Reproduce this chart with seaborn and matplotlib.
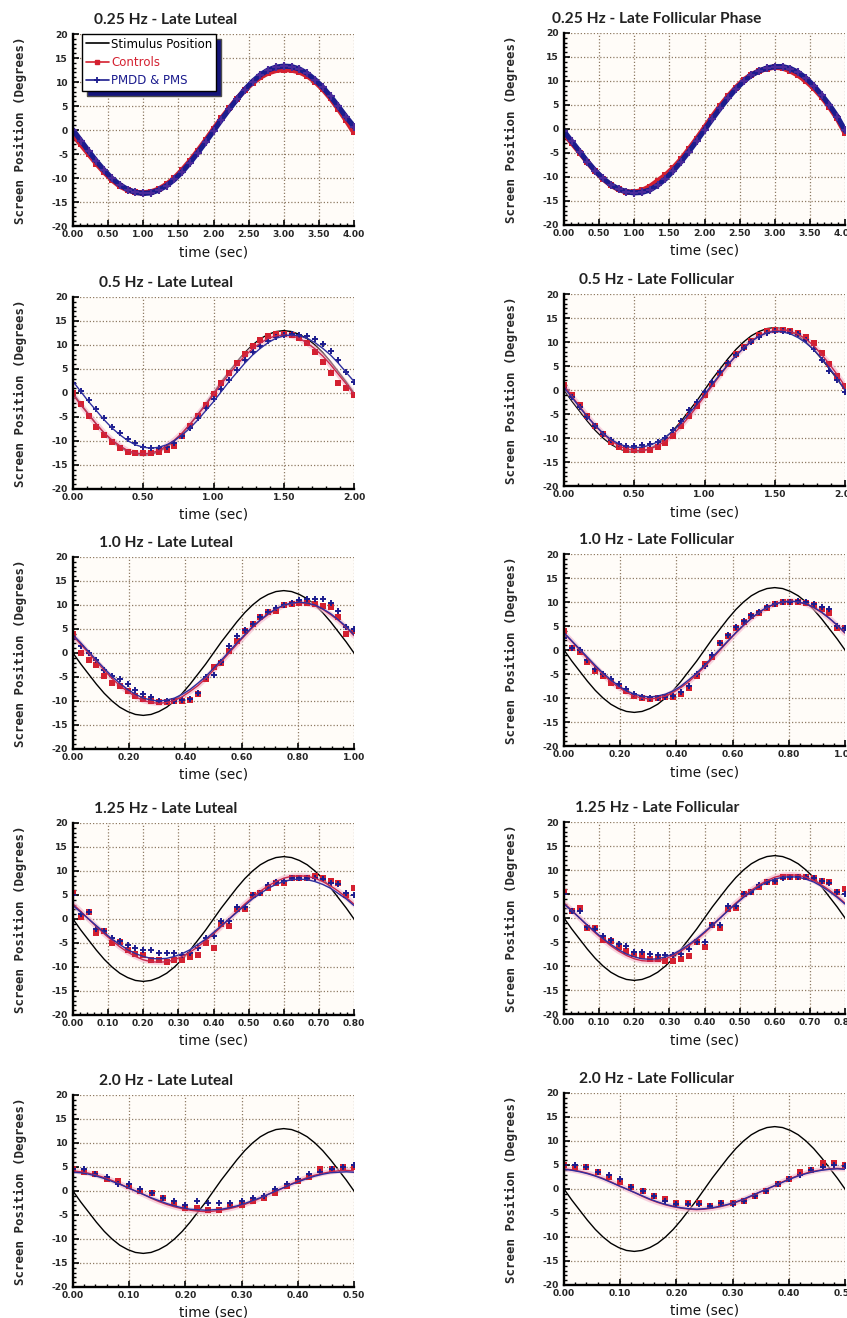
import numpy as np
import matplotlib
matplotlib.use("Agg")
import matplotlib.pyplot as plt
from matplotlib.lines import Line2D
from matplotlib.ticker import MultipleLocator, AutoMinorLocator, FormatStrFormatter
import seaborn as sns

sns.set_theme(style="ticks")
plt.rcParams["font.family"] = ["Liberation Sans Narrow", "DejaVu Sans"]
plt.rcParams["font.weight"] = "bold"
plt.rcParams["axes.unicode_minus"] = False

# ---------------------------------------------------------------------------
# Stimulus position over one cycle (degrees), sampled every 10 deg of phase
stimulus = [0, -2.3, -4.4, -6.5, -8.4, -10.0, -11.3, -12.2, -12.8, -13.0,
            -12.8, -12.2, -11.3, -10.0, -8.4, -6.5, -4.4, -2.3, 0,
            2.3, 4.4, 6.5, 8.4, 10.0, 11.3, 12.2, 12.8, 13.0,
            12.8, 12.2, 11.3, 10.0, 8.4, 6.5, 4.4, 2.3, 0]

# 0.25 Hz - eye position (Controls / PMDD & PMS)
ctrl_025_lut = [-1.0, -3.0, -5.0, -7.0, -8.8, -10.4, -11.7, -12.5, -13.0, -13.1,
                -12.9, -12.3, -11.3, -10.0, -8.3, -6.4, -4.3, -2.1, 0.2,
                2.4, 4.5, 6.5, 8.3, 9.8, 11.0, 11.9, 12.4, 12.6,
                12.5, 12.1, 11.3, 10.1, 8.5, 6.6, 4.4, 2.0, -0.5]
pmdd_025_lut = [0.0, -2.2, -4.4, -6.5, -8.4, -10.1, -11.4, -12.4, -13.0, -13.2,
                -13.1, -12.5, -11.6, -10.3, -8.7, -6.8, -4.7, -2.5, -0.2,
                2.1, 4.3, 6.4, 8.4, 10.1, 11.5, 12.5, 13.1, 13.3,
                13.2, 12.7, 11.8, 10.5, 8.9, 7.0, 4.9, 2.7, 0.7]
ctrl_025_fol = [-1.0, -2.9, -4.9, -6.9, -8.8, -10.4, -11.7, -12.6, -13.1, -13.2,
                -12.8, -12.0, -10.8, -9.6, -8.1, -6.3, -4.2, -2.0, 0.3,
                2.6, 4.8, 6.8, 8.6, 10.2, 11.3, 12.1, 12.6, 12.9,
                12.7, 12.1, 11.2, 10.0, 8.5, 6.7, 4.6, 2.2, -0.8]
pmdd_025_fol = [-0.5, -2.6, -4.7, -6.8, -8.7, -10.3, -11.6, -12.5, -13.1, -13.3,
                -13.2, -12.7, -11.7, -10.4, -8.7, -6.8, -4.7, -2.5, -0.2,
                2.1, 4.3, 6.4, 8.3, 9.9, 11.2, 12.1, 12.7, 13.0,
                13.0, 12.6, 11.8, 10.6, 9.0, 7.1, 5.0, 2.6, -0.3]

# 0.5 Hz
ctrl_05_lut = [0.0, -2.3, -4.8, -7.0, -8.8, -10.3, -11.4, -12.2, -12.5, -12.6,
               -12.4, -12.2, -11.8, -11.0, -9.0, -6.8, -4.7, -2.4, -0.2,
               2.0, 4.2, 6.3, 8.2, 9.8, 11.0, 11.8, 12.2, 12.3,
               12.1, 11.5, 10.4, 8.5, 6.5, 4.2, 2.0, 1.0, -0.5]
pmdd_05_lut = [2.0, 0.5, -1.5, -3.3, -5.3, -7.0, -8.3, -9.5, -10.5, -11.2,
               -11.4, -11.4, -11.2, -10.5, -9.0, -7.3, -5.2, -3.2, -1.2,
               0.8, 2.8, 4.8, 6.8, 8.5, 9.8, 10.8, 11.6, 12.0,
               12.2, 12.1, 11.8, 11.2, 10.2, 8.7, 6.8, 4.3, 2.2]
ctrl_fit_05_lut = [-0.3, -2.5, -4.5, -6.5, -8.3, -9.8, -11.0, -12.0, -12.5, -12.7,
                   -12.5, -12.0, -11.0, -9.8, -8.3, -6.5, -4.5, -2.5, -0.3,
                   1.9, 3.9, 5.9, 7.7, 9.2, 10.4, 11.4, 11.9, 12.1,
                   11.9, 11.4, 10.4, 9.2, 7.7, 5.9, 3.9, 1.9, -0.3]
pmdd_fit_05_lut = [2.4, 0.3, -1.8, -3.7, -5.6, -7.3, -8.7, -9.9, -10.8, -11.3,
                   -11.5, -11.3, -10.8, -9.9, -8.7, -7.3, -5.6, -3.7, -1.8,
                   0.3, 2.4, 4.3, 6.2, 7.9, 9.3, 10.5, 11.4, 11.9,
                   12.1, 11.9, 11.4, 10.5, 9.3, 7.9, 6.2, 4.3, 2.4]
ctrl_05_fol = [1.0, -1.0, -3.2, -5.5, -7.4, -9.2, -10.8, -11.8, -12.4, -12.6,
               -12.6, -12.4, -11.9, -11.0, -9.5, -7.6, -5.5, -3.4, -1.0,
               1.2, 3.5, 5.5, 7.4, 9.0, 10.3, 11.4, 12.2, 12.6,
               12.6, 12.3, 11.8, 11.0, 9.8, 7.8, 5.5, 3.0, 0.8]
pmdd_05_fol = [0.5, -1.4, -3.5, -5.6, -7.6, -9.2, -10.5, -11.3, -11.6, -11.6,
               -11.5, -11.3, -10.8, -9.9, -8.4, -6.4, -4.2, -2.5, -0.5,
               1.6, 3.8, 5.6, 7.3, 8.7, 10.0, 11.0, 11.8, 12.2,
               12.2, 12.0, 11.6, 10.5, 8.5, 6.3, 4.0, 2.0, -0.5]
ctrl_fit_05_fol = [1.0, -1.3, -3.4, -5.5, -7.4, -9.1, -10.5, -11.6, -12.3, -12.6,
                   -12.6, -12.3, -11.6, -10.6, -9.2, -7.5, -5.6, -3.5, -1.3,
                   0.9, 3.1, 5.2, 7.1, 8.8, 10.2, 11.3, 12.0, 12.4,
                   12.5, 12.2, 11.6, 10.6, 9.2, 7.4, 5.4, 3.2, 0.8]
pmdd_fit_05_fol = [0.5, -1.5, -3.6, -5.6, -7.4, -9.0, -10.3, -11.2, -11.8, -12.0,
                   -11.9, -11.5, -10.8, -9.8, -8.5, -6.9, -5.0, -3.0, -0.9,
                   1.2, 3.3, 5.3, 7.1, 8.7, 10.1, 11.2, 11.9, 12.2,
                   12.1, 11.7, 10.9, 9.8, 8.4, 6.6, 4.6, 2.4, 0.0]

# 1.0 Hz
ctrl_10_lut = [4.0, 0.0, -1.5, -2.5, -4.8, -6.3, -6.8, -8.0, -9.0, -9.5,
               -10.0, -10.2, -10.3, -10.0, -10.0, -9.8, -8.5, -5.5, -3.0,
               -2.0, 0.5, 2.5, 4.5, 6.0, 7.5, 8.5, 8.8, 10.0,
               10.3, 10.5, 10.5, 10.2, 9.8, 9.5, 7.5, 4.0, 4.5]
pmdd_10_lut = [3.0, 1.5, 0.0, -1.5, -3.5, -4.8, -5.5, -6.5, -7.8, -8.5,
               -9.2, -10.0, -10.0, -10.0, -9.8, -9.5, -8.3, -5.0, -4.5,
               -1.8, 1.5, 3.5, 4.8, 6.0, 7.5, 8.5, 9.3, 10.0,
               10.5, 11.0, 11.2, 11.2, 11.2, 10.5, 8.8, 5.5, 5.0]
ctrl_fit_10_lut = [3.6, 1.8, 0.0, -1.8, -3.6, -5.3, -6.8, -8.0, -9.1, -9.9,
                   -10.3, -10.5, -10.3, -9.9, -9.1, -8.0, -6.8, -5.3, -3.6,
                   -1.8, 0.0, 1.8, 3.6, 5.3, 6.8, 8.0, 9.1, 9.9,
                   10.3, 10.5, 10.3, 9.9, 9.1, 8.0, 6.8, 5.3, 3.6]
pmdd_fit_10_lut = [3.8, 2.1, 0.3, -1.5, -3.2, -4.9, -6.3, -7.6, -8.6, -9.4,
                   -9.8, -10.0, -9.8, -9.4, -8.6, -7.6, -6.3, -4.9, -3.2,
                   -1.5, 0.3, 2.1, 3.8, 5.5, 6.9, 8.2, 9.2, 10.0,
                   10.4, 10.6, 10.4, 10.0, 9.2, 8.2, 6.9, 5.5, 3.8]
ctrl_10_fol = [4.0, 0.5, -0.5, -2.5, -4.3, -5.5, -6.8, -7.5, -8.5, -9.5,
               -10.0, -10.2, -10.0, -9.8, -9.7, -9.2, -8.0, -5.5, -3.0,
               -1.5, 1.5, 3.0, 4.5, 5.8, 7.0, 7.8, 8.8, 9.5,
               9.9, 10.0, 10.0, 9.8, 9.3, 8.5, 7.8, 4.5, 4.5]
pmdd_10_fol = [2.5, 0.5, 0.0, -2.0, -4.0, -5.0, -6.0, -7.0, -8.2, -9.2,
               -9.8, -10.0, -10.0, -9.8, -9.5, -8.8, -7.5, -5.0, -3.3,
               -1.0, 1.5, 3.2, 4.8, 6.0, 7.2, 8.0, 9.0, 9.6,
               10.0, 10.0, 10.2, 10.0, 9.6, 9.0, 8.5, 5.0, 4.5]
ctrl_fit_10_fol = [3.5, 1.8, 0.0, -1.8, -3.5, -5.1, -6.6, -7.8, -8.8, -9.6,
                   -10.0, -10.2, -10.0, -9.6, -8.8, -7.8, -6.6, -5.1, -3.5,
                   -1.8, 0.0, 1.8, 3.5, 5.1, 6.6, 7.8, 8.8, 9.6,
                   10.0, 10.2, 10.0, 9.6, 8.8, 7.8, 6.6, 5.1, 3.5]
pmdd_fit_10_fol = [3.6, 1.9, 0.2, -1.5, -3.2, -4.8, -6.2, -7.5, -8.5, -9.2,
                   -9.6, -9.8, -9.6, -9.2, -8.5, -7.5, -6.2, -4.8, -3.2,
                   -1.5, 0.2, 1.9, 3.6, 5.2, 6.6, 7.9, 8.9, 9.6,
                   10.0, 10.2, 10.0, 9.6, 8.9, 7.9, 6.6, 5.2, 3.6]

# 1.25 Hz
ctrl_125_lut = [5.5, 0.5, 1.5, -3.0, -2.5, -5.0, -4.8, -6.5, -7.2, -7.5,
                -8.5, -8.5, -9.0, -8.5, -8.5, -8.0, -7.5, -5.0, -6.0,
                -1.0, -1.5, 2.0, 2.0, 5.0, 5.5, 6.5, 7.5, 7.5,
                8.5, 8.5, 8.5, 9.0, 8.5, 8.0, 7.5, 5.0, 6.5]
pmdd_125_lut = [5.0, 1.0, 1.5, -2.0, -2.5, -4.0, -4.5, -5.5, -6.0, -6.5,
                -6.5, -7.0, -7.0, -7.0, -7.5, -7.0, -6.0, -4.0, -3.5,
                -0.5, -0.5, 2.5, 2.5, 5.0, 5.5, 7.0, 7.8, 8.0,
                8.5, 8.5, 8.5, 8.5, 8.3, 7.5, 7.3, 5.5, 5.0]
ctrl_fit_125_lut = [3.1, 1.6, 0.0, -1.6, -3.1, -4.5, -5.8, -6.9, -7.8, -8.5,
                    -8.9, -9.0, -8.9, -8.5, -7.8, -6.9, -5.8, -4.5, -3.1,
                    -1.6, 0.0, 1.6, 3.1, 4.5, 5.8, 6.9, 7.8, 8.5,
                    8.9, 9.0, 8.9, 8.5, 7.8, 6.9, 5.8, 4.5, 3.1]
pmdd_fit_125_lut = [2.8, 1.4, 0.0, -1.4, -2.8, -4.2, -5.3, -6.4, -7.2, -7.8,
                    -8.2, -8.3, -8.2, -7.8, -7.2, -6.4, -5.3, -4.2, -2.8,
                    -1.4, 0.0, 1.4, 2.8, 4.2, 5.3, 6.4, 7.2, 7.8,
                    8.2, 8.3, 8.2, 7.8, 7.2, 6.4, 5.3, 4.2, 2.8]
ctrl_125_fol = [5.5, 1.5, 2.0, -2.0, -2.0, -4.5, -4.8, -6.0, -6.8, -7.5,
                -8.0, -8.5, -8.5, -9.0, -9.0, -8.5, -8.0, -5.0, -6.0,
                -1.5, -2.0, 1.8, 2.0, 5.0, 5.5, 6.5, 7.5, 7.5,
                8.5, 8.5, 8.5, 8.5, 8.3, 7.8, 7.5, 5.5, 6.0]
pmdd_125_fol = [5.0, 1.5, 1.5, -1.8, -2.2, -3.8, -4.5, -5.5, -5.8, -7.0,
                -7.0, -7.5, -7.8, -7.8, -7.8, -7.5, -6.5, -5.0, -5.0,
                -1.5, -1.5, 2.5, 2.5, 5.0, 5.5, 6.8, 7.5, 7.8,
                8.3, 8.5, 8.5, 8.5, 8.3, 7.8, 7.3, 5.5, 5.0]
ctrl_fit_125_fol = [3.1, 1.6, 0.0, -1.6, -3.1, -4.5, -5.8, -6.9, -7.8, -8.5,
                    -8.9, -9.0, -8.9, -8.5, -7.8, -6.9, -5.8, -4.5, -3.1,
                    -1.6, 0.0, 1.6, 3.1, 4.5, 5.8, 6.9, 7.8, 8.5,
                    8.9, 9.0, 8.9, 8.5, 7.8, 6.9, 5.8, 4.5, 3.1]
pmdd_fit_125_fol = [2.9, 1.5, 0.0, -1.5, -2.9, -4.3, -5.5, -6.6, -7.5, -8.1,
                    -8.5, -8.6, -8.5, -8.1, -7.5, -6.6, -5.5, -4.3, -2.9,
                    -1.5, 0.0, 1.5, 2.9, 4.3, 5.5, 6.6, 7.5, 8.1,
                    8.5, 8.6, 8.5, 8.1, 7.5, 6.6, 5.5, 4.3, 2.9]

# 2.0 Hz
ctrl_20_lut = [4.5, 4.0, 3.5, 2.5, 2.0, 1.0, 0.0, -0.5, -1.5, -2.5,
               -3.5, -3.5, -4.0, -4.0, -3.0, -3.0, -2.0, -1.5, -0.5, 1.0,
               2.0, 3.0, 4.5, 4.5, 5.0, 5.0]
pmdd_20_lut = [4.5, 4.5, 3.5, 3.0, 1.5, 1.5, 0.5, -0.5, -1.5, -2.0,
               -3.0, -2.0, -2.5, -2.5, -2.5, -2.0, -1.5, -1.0, 0.5, 1.5,
               2.5, 3.5, 4.0, 4.5, 5.0, 5.5]
ctrl_fit_20_lut = [4.2, 4.0, 3.7, 3.3, 2.8, 2.2, 1.5, 0.7, 0.0, -0.7,
                   -1.5, -2.2, -2.8, -3.3, -3.7, -4.0, -4.2, -4.3, -4.2,
                   -4.0, -3.7, -3.3, -2.8, -2.2, -1.5, -0.7, 0.0, 0.7,
                   1.5, 2.2, 2.8, 3.3, 3.7, 4.0, 4.2, 4.3, 4.2]
pmdd_fit_20_lut = [3.9, 3.8, 3.5, 3.1, 2.6, 2.0, 1.4, 0.7, 0.0, -0.7,
                   -1.4, -2.0, -2.6, -3.1, -3.5, -3.8, -3.9, -4.0, -3.9,
                   -3.8, -3.5, -3.1, -2.6, -2.0, -1.4, -0.7, 0.0, 0.7,
                   1.4, 2.0, 2.6, 3.1, 3.5, 3.8, 3.9, 4.0, 3.9]
ctrl_20_fol = [5.0, 4.5, 4.5, 3.5, 2.5, 1.5, 0.5, -0.5, -1.5, -2.0,
               -3.0, -3.0, -3.0, -3.5, -3.0, -3.0, -2.5, -1.5, -0.5, 1.0,
               2.0, 3.5, 4.0, 5.5, 5.5, 5.0]
pmdd_20_fol = [5.0, 5.0, 4.5, 3.5, 3.0, 2.0, 0.5, -0.5, -1.5, -2.5,
               -3.2, -3.2, -3.2, -3.5, -3.0, -3.2, -2.5, -1.5, -0.5, 1.0,
               2.0, 3.0, 4.0, 4.5, 5.0, 4.8]
ctrl_fit_20_fol = [4.2, 4.0, 3.7, 3.3, 2.8, 2.2, 1.5, 0.7, 0.0, -0.7,
                   -1.5, -2.2, -2.8, -3.3, -3.7, -4.0, -4.2, -4.3, -4.2,
                   -4.0, -3.7, -3.3, -2.8, -2.2, -1.5, -0.7, 0.0, 0.7,
                   1.5, 2.2, 2.8, 3.3, 3.7, 4.0, 4.2, 4.3, 4.2]
pmdd_fit_20_fol = [4.1, 3.9, 3.6, 3.2, 2.7, 2.1, 1.4, 0.7, 0.0, -0.7,
                   -1.4, -2.1, -2.7, -3.2, -3.6, -3.9, -4.1, -4.2, -4.1,
                   -3.9, -3.6, -3.2, -2.7, -2.1, -1.4, -0.7, 0.0, 0.7,
                   1.4, 2.1, 2.7, 3.2, 3.6, 3.9, 4.1, 4.2, 4.1]

frequencies = [0.25, 0.5, 1.0, 1.25, 2.0]
x_major_steps = [0.5, 0.5, 0.2, 0.1, 0.1]
panel_titles = [
    ["0.25 Hz - Late Luteal", "0.25 Hz - Late Follicular Phase"],
    ["0.5 Hz - Late Luteal", "0.5 Hz - Late Follicular"],
    ["1.0 Hz - Late Luteal", "1.0 Hz - Late Follicular"],
    ["1.25 Hz - Late Luteal", "1.25 Hz - Late Follicular"],
    ["2.0 Hz - Late Luteal", "2.0 Hz - Late Follicular"],
]
legend_labels = ["Stimulus Position", "Controls", "PMDD & PMS"]

# (controls points, pmdd points, controls fit, pmdd fit) for each row / column
panel_series = [
    [(ctrl_025_lut, pmdd_025_lut, None, None),
     (ctrl_025_fol, pmdd_025_fol, None, None)],
    [(ctrl_05_lut, pmdd_05_lut, ctrl_fit_05_lut, pmdd_fit_05_lut),
     (ctrl_05_fol, pmdd_05_fol, ctrl_fit_05_fol, pmdd_fit_05_fol)],
    [(ctrl_10_lut, pmdd_10_lut, ctrl_fit_10_lut, pmdd_fit_10_lut),
     (ctrl_10_fol, pmdd_10_fol, ctrl_fit_10_fol, pmdd_fit_10_fol)],
    [(ctrl_125_lut, pmdd_125_lut, ctrl_fit_125_lut, pmdd_fit_125_lut),
     (ctrl_125_fol, pmdd_125_fol, ctrl_fit_125_fol, pmdd_fit_125_fol)],
    [(ctrl_20_lut, pmdd_20_lut, ctrl_fit_20_lut, pmdd_fit_20_lut),
     (ctrl_20_fol, pmdd_20_fol, ctrl_fit_20_fol, pmdd_fit_20_fol)],
]

RED = "#d42030"
RED_FIT = "#c8284e"
NAVY = "#1c1c8e"
BLUE_FIT = "#2e2e9e"
GRID = "#8f7b64"
FACE = "#fffcf8"

W, H = 847, 1318
fig = plt.figure(figsize=(W / 100, H / 100), dpi=100)
fig.patch.set_facecolor("white")

col_left = [73, 564]
col_tops = [[34, 297, 557, 823, 1095], [33, 294, 554, 822, 1093]]
ax_w, ax_h = 281, 192

for r, freq in enumerate(frequencies):
    period = 1.0 / freq
    for c in range(2):
        x0, top = col_left[c], col_tops[c][r]
        ax = fig.add_axes([x0 / W, 1 - (top + ax_h) / H, ax_w / W, ax_h / H])
        ax.set_facecolor(FACE)
        ctrl_pts, pmdd_pts, ctrl_fit, pmdd_fit = panel_series[r][c]

        t_stim = np.linspace(0, period, len(stimulus))
        sns.lineplot(x=t_stim, y=stimulus, ax=ax, color="black", lw=1.0,
                     zorder=3, legend=False)

        t_c = np.linspace(0, period, len(ctrl_pts))
        t_p = np.linspace(0, period, len(pmdd_pts))
        if ctrl_fit is None:
            # slow sweep: dense samples drawn as thick joined traces
            sns.lineplot(x=t_c, y=ctrl_pts, ax=ax, color=RED, lw=3.8,
                         zorder=4, legend=False)
            sns.scatterplot(x=t_c, y=ctrl_pts, ax=ax, marker="s", s=18,
                            color=RED, linewidth=0, zorder=5, legend=False)
            sns.lineplot(x=t_p, y=pmdd_pts, ax=ax, color=NAVY, lw=3.8,
                         zorder=6, legend=False)
            sns.scatterplot(x=t_p, y=pmdd_pts, ax=ax, marker="+", s=30,
                            color="#4a2a9a", linewidth=1.5, zorder=7,
                            legend=False)
        else:
            t_cf = np.linspace(0, period, len(ctrl_fit))
            t_pf = np.linspace(0, period, len(pmdd_fit))
            sns.lineplot(x=t_cf, y=ctrl_fit, ax=ax, color="#f2b6cc", lw=4.0,
                         alpha=0.6, zorder=3.5, legend=False)
            sns.scatterplot(x=t_c, y=ctrl_pts, ax=ax, marker="s", s=14,
                            color=RED, linewidth=0, zorder=4, legend=False)
            sns.scatterplot(x=t_p, y=pmdd_pts, ax=ax, marker="+", s=24,
                            color=NAVY, linewidth=1.4, zorder=5, legend=False)
            sns.lineplot(x=t_cf, y=ctrl_fit, ax=ax, color=RED_FIT, lw=1.0,
                         zorder=6, legend=False)
            sns.lineplot(x=t_pf, y=pmdd_fit, ax=ax, color=BLUE_FIT, lw=1.0,
                         zorder=7, legend=False)

        ax.set_xlim(0, period)
        ax.set_ylim(-20, 20)
        ax.xaxis.set_major_locator(MultipleLocator(x_major_steps[r]))
        ax.xaxis.set_minor_locator(AutoMinorLocator(5))
        ax.xaxis.set_major_formatter(FormatStrFormatter("%.2f"))
        ax.yaxis.set_major_locator(MultipleLocator(5))
        ax.yaxis.set_minor_locator(MultipleLocator(1))
        ax.yaxis.set_major_formatter(FormatStrFormatter("%d"))

        ax.grid(True, which="major", linestyle=(0, (1, 1.6)), color=GRID,
                lw=0.9)
        ax.set_axisbelow(True)
        for side in ("top", "right"):
            ax.spines[side].set_visible(False)
        for side in ("left", "bottom"):
            ax.spines[side].set_color("black")
            ax.spines[side].set_linewidth(1.7)
            ax.spines[side].set_zorder(8)
        ax.tick_params(which="major", direction="in", length=4, width=1.2,
                       color="black", labelsize=6.6, top=False, right=False)
        ax.tick_params(which="major", axis="x", pad=3.2)
        ax.tick_params(which="major", axis="y", pad=3.5)
        ax.tick_params(which="minor", direction="in", length=2, width=1.0,
                       color="black", top=False, right=False)

        ax.set_title(panel_titles[r][c], x=0.33, pad=7, fontsize=11.2,
                     fontweight="bold", color="#222222",
                     family=["Lato", "DejaVu Sans"])
        ax.set_ylabel("Screen Position (Degrees)", fontsize=9,
                      fontweight="bold", family=["DejaVu Sans Mono"])
        ax.yaxis.set_label_coords(-46 / ax_w, 0.5)
        ax.set_xlabel("time (sec)", fontsize=9.8, fontweight="normal",
                      family=["DejaVu Sans"], color="#111111")
        ax.xaxis.set_label_coords(0.5, -19 / ax_h)

        if r == 0 and c == 0:
            handles = [
                Line2D([], [], color="black", lw=1.2),
                Line2D([], [], color=RED, lw=1.2, marker="s", markersize=3.5),
                Line2D([], [], color=NAVY, lw=1.2, marker="+", markersize=5,
                       markeredgewidth=1.3),
            ]
            leg = ax.legend(handles, legend_labels, loc="upper left",
                            bbox_to_anchor=(82 / W, 1 - 34 / H),
                            bbox_transform=fig.transFigure,
                            borderaxespad=0, frameon=True, fancybox=False,
                            shadow={"ox": 3.8, "oy": -3.8,
                                    "facecolor": "#14147a", "alpha": 1},
                            framealpha=1, borderpad=0.3, labelspacing=0.45,
                            handlelength=2.0, handletextpad=0.15,
                            prop={"size": 8.5, "weight": "normal",
                                  "family": "DejaVu Sans"})
            leg.get_frame().set_edgecolor("black")
            leg.get_frame().set_linewidth(1.0)
            leg.set_zorder(10)
            for txt, col in zip(leg.get_texts(), ["black", RED, NAVY]):
                txt.set_color(col)

fig.savefig("out.png", dpi=100)
